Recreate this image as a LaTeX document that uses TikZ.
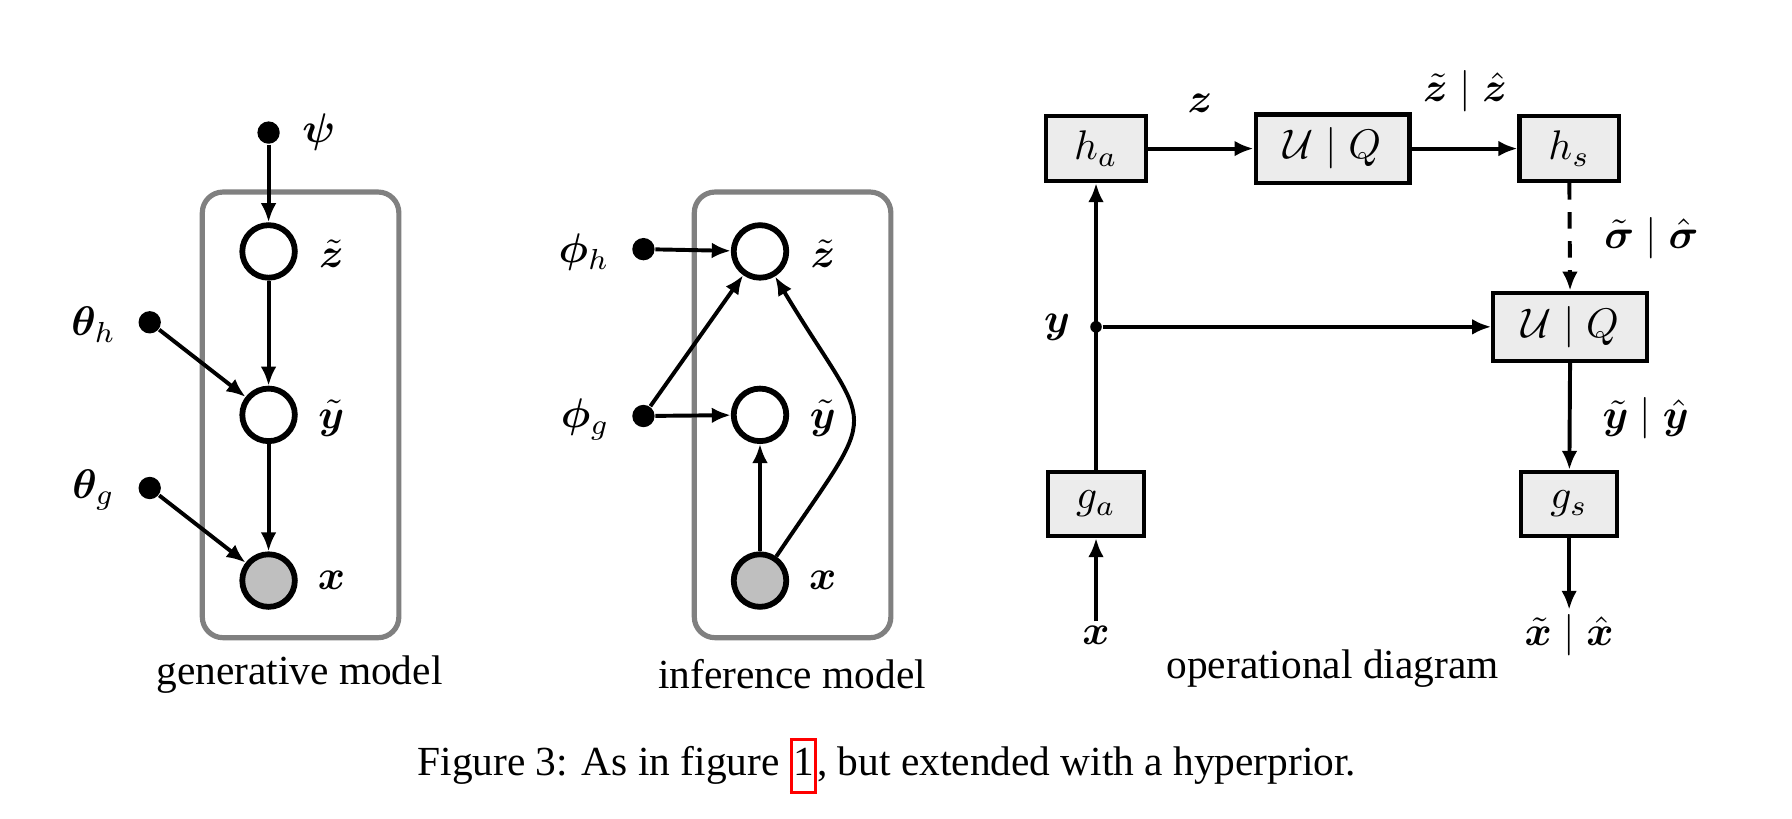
\documentclass[tikz,border=0pt]{standalone}
\usepackage{amsmath,bm}
\usepackage{fontspec}
\setmainfont{Liberation Serif}
\usetikzlibrary{arrows.meta}
\tikzset{
  latent/.style={circle, draw, line width=1.4pt, minimum size=12.7pt, inner sep=0pt, fill=white},
  obs/.style={latent, fill=gray!50},
  param/.style={circle, fill=black, inner sep=0pt, minimum size=5.4pt},
  plate/.style={draw=gray, line width=1.25pt, rounded corners=5pt, minimum width=47.5pt, minimum height=107.7pt},
  opbox/.style={draw, fill=gray!15, line width=1pt, minimum width=24pt, minimum height=15.7pt, inner sep=0pt},
  widebox/.style={opbox, minimum width=37.2pt, minimum height=16.5pt},
  arr/.style={-{Latex[length=4.6pt,width=3.8pt]}, line width=0.95pt},
  lbl/.style={inner sep=1pt}
}
\begin{document}
\begin{tikzpicture}[x=0.2762pt, y=-0.2762pt]
\useasboundingbox (0,0) rectangle (1568,716);

% ---------- generative model ----------
\node[plate] (plateG) at (263,363) {};
\node[param] (psi) at (235,116) {};
\node[lbl] (psiL) at (279,116) {$\bm{\psi}$};
\node[latent] (zG) at (235,220) {};
\node[lbl] (zGL) at (290,222) {$\bm{\tilde z}$};
\node[latent] (yG) at (235,363) {};
\node[lbl] (yGL) at (290,366) {$\bm{\tilde y}$};
\node[obs] (xG) at (235,508) {};
\node[lbl] (xGL) at (290,508) {$\bm{x}$};
\node[param] (thh) at (131,282) {};
\node[lbl] (thhL) at (82,284) {$\bm{\theta}_h$};
\node[param] (thg) at (131,427) {};
\node[lbl] (thgL) at (82,429) {$\bm{\theta}_g$};
\draw[arr] (psi) -- (zG);
\draw[arr] (zG) -- (yG);
\draw[arr] (yG) -- (xG);
\draw[arr] (thh) -- (yG);
\draw[arr] (thg) -- (xG);
\node (capG) at (262,590) {generative model};

% ---------- inference model ----------
\node[plate] (plateI) at (693.5,363) {};
\node[latent] (zI) at (665,220) {};
\node[lbl] (zIL) at (720,222) {$\bm{\tilde z}$};
\node[latent] (yI) at (665,363) {};
\node[lbl] (yIL) at (720,366) {$\bm{\tilde y}$};
\node[obs] (xI) at (665,508) {};
\node[lbl] (xIL) at (720,508) {$\bm{x}$};
\node[param] (phh) at (563,218) {};
\node[lbl] (phhL) at (511,221) {$\bm{\phi}_h$};
\node[param] (phg) at (563,364) {};
\node[lbl] (phgL) at (512,367) {$\bm{\phi}_g$};
\draw[arr] (phh) -- (zI);
\draw[arr] (phg) -- (zI);
\draw[arr] (phg) -- (yI);
\draw[arr] (xI) -- (yI);
\draw[arr] (xI) to[out=56, in=-59, looseness=1.75] (zI);
\node (capI) at (693,590) {inference model};

% ---------- operational diagram ----------
\node[opbox] (ha) at (959,130) {$h_a$};
\node[widebox] (uq1) at (1166,130) {$\mathcal{U}\mid Q$};
\node[opbox] (hs) at (1373,130) {$h_s$};
\node[widebox] (uq2) at (1374,286) {$\mathcal{U}\mid Q$};
\node[opbox, minimum width=23.2pt, minimum height=15.5pt] (ga) at (959,441) {$g_a$};
\node[opbox, minimum width=23.2pt, minimum height=15.5pt] (gs) at (1373,441) {$g_s$};
\node[circle, fill=black, inner sep=0pt, minimum size=2.8pt] (ydot) at (959,286) {};
\node[lbl] (yL) at (925,286) {$\bm{y}$};
\node[lbl] (xin) at (959,556) {$\bm{x}$};
\node[lbl] (xout) at (1373,556) {$\tilde{\bm x}\mid\hat{\bm x}$};
\node[lbl] (zL) at (1050,90) {$\bm{z}$};
\node[lbl] (zhL) at (1282,80) {$\tilde{\bm z}\mid\hat{\bm z}$};
\node[lbl] (sL) at (1445,208) {$\tilde{\bm\sigma}\mid\hat{\bm\sigma}$};
\node[lbl] (yhL) at (1440,366) {$\tilde{\bm y}\mid\hat{\bm y}$};
\draw[arr] (xin) -- (ga);
\draw[arr] (ga) -- (ha);
\draw[arr] (ydot) -- (uq2);
\draw[arr] (ha) -- (uq1);
\draw[arr] (uq1) -- (hs);
\draw[arr, dashed, dash pattern=on 4pt off 3pt] (hs) -- (uq2);
\draw[arr] (uq2) -- (gs);
\draw[arr] (gs) -- (xout);
\node (capO) at (1166,585) {operational diagram};

% ---------- caption ----------
\node (cap) at (776,670) {Figure 3: As in figure {\fboxsep=0pt\fboxrule=0.8pt\textcolor{red}{\fbox{\textcolor{black}{\strut 1}}}}, but extended with a hyperprior.};
\end{tikzpicture}
\end{document}
